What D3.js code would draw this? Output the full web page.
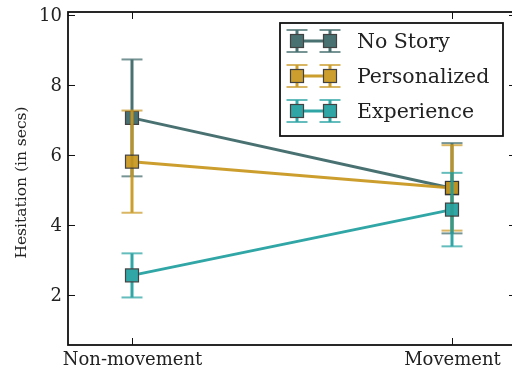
<!DOCTYPE html>
<html>
<head>
<meta charset="utf-8">
<script src="https://cdn.jsdelivr.net/npm/d3@7"></script>
<style>
  html, body { margin: 0; padding: 0; background: #fff; }
  svg { display: block; }
  text { font-family: "DejaVu Serif", "Liberation Serif", serif; fill: #222; }
</style>
</head>
<body>
<svg id="chart" width="512" height="373"></svg>
<script>
// Conditions on the x axis
const conditions = ["Non-movement", "Movement"];
// Story groups
const groups = ["No Story", "Personalized", "Experience"];
// Mean hesitation (secs) per group, per condition
const noStoryMean = [7.06, 5.05];
const personalizedMean = [5.81, 5.06];
const experienceMean = [2.56, 4.44];
// Error bar half-widths
const noStoryErr = [1.67, 1.29];
const personalizedErr = [1.46, 1.22];
const experienceErr = [0.63, 1.05];
// Y tick values
const yTicks = [2, 4, 6, 8, 10];

const colors = ["#3a6565", "#c8961c", "#1f9e9e"];
const series = [
  { name: groups[0], mean: noStoryMean, err: noStoryErr, color: colors[0] },
  { name: groups[1], mean: personalizedMean, err: personalizedErr, color: colors[1] },
  { name: groups[2], mean: experienceMean, err: experienceErr, color: colors[2] }
];

const svg = d3.select("#chart");
const plotLeft = 68, plotRight = 516, plotTop = 12, plotBottom = 345;

const x = d3.scaleLinear().domain([-0.2, 1.2]).range([plotLeft, plotRight]);
const y = d3.scaleLinear().domain([0.5714, 10.0857]).range([plotBottom, plotTop]);

const tickLen = 7;
const capHalf = 10.5;
const markerSize = 13;

// Plot contents
const plot = svg.append("g");
series.forEach(s => {
  const g = plot.append("g").attr("opacity", 0.92);
  // error bars
  s.mean.forEach((m, i) => {
    const cx = x(i), y0 = y(m - s.err[i]), y1 = y(m + s.err[i]);
    g.append("line").attr("x1", cx).attr("x2", cx).attr("y1", y0).attr("y2", y1)
      .attr("stroke", s.color).attr("stroke-width", 3);
    [y0, y1].forEach(yy => g.append("line")
      .attr("x1", cx - capHalf).attr("x2", cx + capHalf).attr("y1", yy).attr("y2", yy)
      .attr("stroke", s.color).attr("stroke-width", 2).attr("opacity", 0.75));
  });
  // connecting line
  const line = d3.line().x((d, i) => x(i)).y(d => y(d));
  g.append("path").attr("d", line(s.mean)).attr("fill", "none")
    .attr("stroke", s.color).attr("stroke-width", 3);
  // square markers
  s.mean.forEach((m, i) => {
    g.append("rect")
      .attr("x", x(i) - markerSize / 2).attr("y", y(m) - markerSize / 2)
      .attr("width", markerSize).attr("height", markerSize)
      .attr("fill", s.color).attr("stroke", "#333").attr("stroke-width", 1.2);
  });
});

// Frame
svg.append("rect").attr("x", plotLeft).attr("y", plotTop)
  .attr("width", plotRight - plotLeft).attr("height", plotBottom - plotTop)
  .attr("fill", "none").attr("stroke", "#111").attr("stroke-width", 1.8);

// Y axis (ticks pointing inward) on left and right
const yAxisL = d3.axisLeft(y).tickValues(yTicks).tickSize(-tickLen).tickPadding(12).tickFormat(d3.format("d"));
const gyl = svg.append("g").attr("transform", `translate(${plotLeft},0)`).call(yAxisL);
gyl.select(".domain").remove();
gyl.selectAll(".tick line").attr("stroke", "#111").attr("stroke-width", 1);
gyl.selectAll(".tick text").attr("font-size", 18).attr("fill", "#222")
  .attr("font-family", "DejaVu Serif, serif").attr("x", -6);

const yAxisR = d3.axisRight(y).tickValues(yTicks).tickSize(-tickLen).tickFormat("");
const gyr = svg.append("g").attr("transform", `translate(${plotRight},0)`).call(yAxisR);
gyr.select(".domain").remove();
gyr.selectAll(".tick line").attr("stroke", "#111").attr("stroke-width", 1);

// X axis (ticks inward) bottom and top
const xAxisB = d3.axisBottom(x).tickValues([0, 1]).tickSize(-tickLen).tickPadding(10)
  .tickFormat(i => conditions[i]);
const gxb = svg.append("g").attr("transform", `translate(0,${plotBottom})`).call(xAxisB);
gxb.select(".domain").remove();
gxb.selectAll(".tick line").attr("stroke", "#111").attr("stroke-width", 1);
gxb.selectAll(".tick text").attr("font-size", 18).attr("fill", "#222")
  .attr("font-family", "DejaVu Serif, serif").attr("y", 7);

const xAxisT = d3.axisTop(x).tickValues([0, 1]).tickSize(-tickLen).tickFormat("");
const gxt = svg.append("g").attr("transform", `translate(0,${plotTop})`).call(xAxisT);
gxt.select(".domain").remove();
gxt.selectAll(".tick line").attr("stroke", "#111").attr("stroke-width", 1);

// Y label
svg.append("text")
  .attr("transform", `translate(26,${(plotTop + plotBottom) / 2 + 4}) rotate(-90)`)
  .attr("text-anchor", "middle").attr("font-size", 15.5)
  .text("Hesitation (in secs)");

// Legend
const lg = svg.append("g");
lg.append("rect").attr("x", 280).attr("y", 23).attr("width", 223).attr("height", 113)
  .attr("fill", "#fff").attr("stroke", "#111").attr("stroke-width", 1.8);
series.forEach((s, k) => {
  const ry = 41 + k * 35;
  const h = lg.append("g").attr("opacity", 0.92);
  const xs = [297, 330];
  h.append("line").attr("x1", xs[0]).attr("x2", xs[1]).attr("y1", ry).attr("y2", ry)
    .attr("stroke", s.color).attr("stroke-width", 3);
  xs.forEach(hx => {
    h.append("line").attr("x1", hx).attr("x2", hx).attr("y1", ry - 11).attr("y2", ry + 11)
      .attr("stroke", s.color).attr("stroke-width", 3);
    [ry - 11, ry + 11].forEach(yy => h.append("line")
      .attr("x1", hx - capHalf).attr("x2", hx + capHalf).attr("y1", yy).attr("y2", yy)
      .attr("stroke", s.color).attr("stroke-width", 2).attr("opacity", 0.75));
    h.append("rect").attr("x", hx - markerSize / 2).attr("y", ry - markerSize / 2)
      .attr("width", markerSize).attr("height", markerSize)
      .attr("fill", s.color).attr("stroke", "#333").attr("stroke-width", 1.2);
  });
  lg.append("text").attr("x", 357).attr("y", ry + 7).attr("font-size", 20.5).text(s.name);
});
</script>
</body>
</html>
